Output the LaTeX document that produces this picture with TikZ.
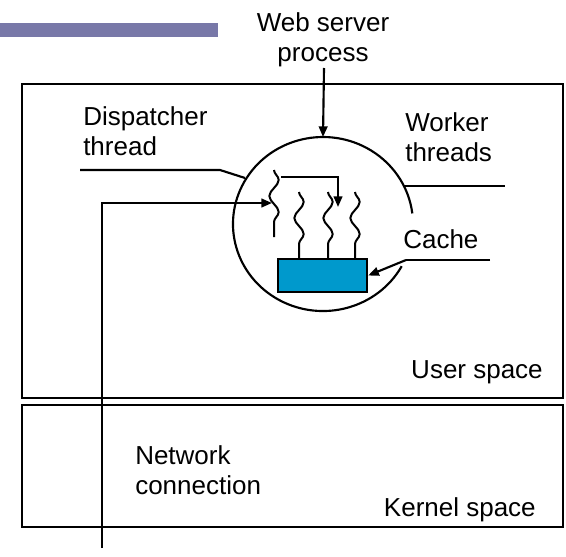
\documentclass[tikz,border=0pt]{standalone}
\usepackage{fontspec}
\setmainfont{Liberation Sans}
\usetikzlibrary{arrows.meta,decorations.pathmorphing}
\definecolor{barpurple}{RGB}{120,120,168}
\definecolor{cacheblue}{RGB}{0,153,204}
\begin{document}
\begin{tikzpicture}[x=0.75pt,y=-0.75pt,
  lbl/.style={inner sep=0pt,font=\fontsize{19.5}{22.5}\selectfont},
  boxline/.style={line width=2.1pt},
  conn/.style={line width=1.6pt},
  arr/.style={conn,-{Triangle[length=8pt,width=6.5pt]}},
  squig/.style={line width=1.5pt,decorate,decoration={snake,segment length=24pt,amplitude=3.5pt}},
  cachebox/.style={draw,line width=1.8pt,fill=cacheblue,minimum width=66.75pt,minimum height=24.75pt,inner sep=0pt}]
\useasboundingbox (0,0) rectangle (566,556);
% title bar
\fill[barpurple] (0,23) rectangle (218,37);
% spaces
\draw[boxline] (22,84) rectangle (563,398);
\draw[boxline] (22,405) rectangle (563,527);
% labels
\node[lbl,align=center] (web) at (323,40) {Web server\\process};
\node[lbl,align=left,anchor=west] (disp) at (83,131) {Dispatcher\\thread};
\node[lbl,align=left,anchor=west] (work) at (405,137.5) {Worker\\threads};
\node[lbl,anchor=base west] (cache) at (403,248) {Cache};
\node[lbl,anchor=base east] (user) at (543,378) {User space};
\node[lbl,align=left,anchor=west] (net) at (135,470) {Network\\connection};
\node[lbl,anchor=base east] (kern) at (536,516) {Kernel space};
% process circle (open on the right)
\coordinate (ctop) at (323,137);
\draw[conn] (401.7,266.2) arc[start angle=29,end angle=353,x radius=90,y radius=87];
% cache
\node[cachebox] (cbox) at (322.5,275.5) {};
% threads
\coordinate (d1) at (274,170);
\coordinate (d2) at (274,237);
\draw[squig] (d1) -- (d2);
\foreach \xx in {299,328,355}{
  \draw[squig] (\xx,192) -- (\xx,259);
}
\coordinate (dtip) at (272,203);
\coordinate (wtip) at (338,207);
\coordinate (dstart) at (281,177);
% connectors
\coordinate (wsrc) at (324,68);
\draw[arr] (wsrc) -- (ctop);
\draw[arr] (dstart) -| (wtip);
\coordinate (netend) at (102,548);
\draw[arr] (netend) |- (dtip);
\coordinate (dispend) at (80,170);
\coordinate (dispc) at (245,178);
\draw[conn] (dispend) -- (220,170) -- (dispc);
\coordinate (workc) at (404,186);
\coordinate (workend) at (505,186);
\draw[conn] (workc) -- (workend);
\coordinate (cachec) at (406,260);
\coordinate (cacheend) at (490,260);
\draw[conn] (cacheend) -- (cachec);
\draw[arr] (cachec) -- (cbox.east);
\end{tikzpicture}
\end{document}
